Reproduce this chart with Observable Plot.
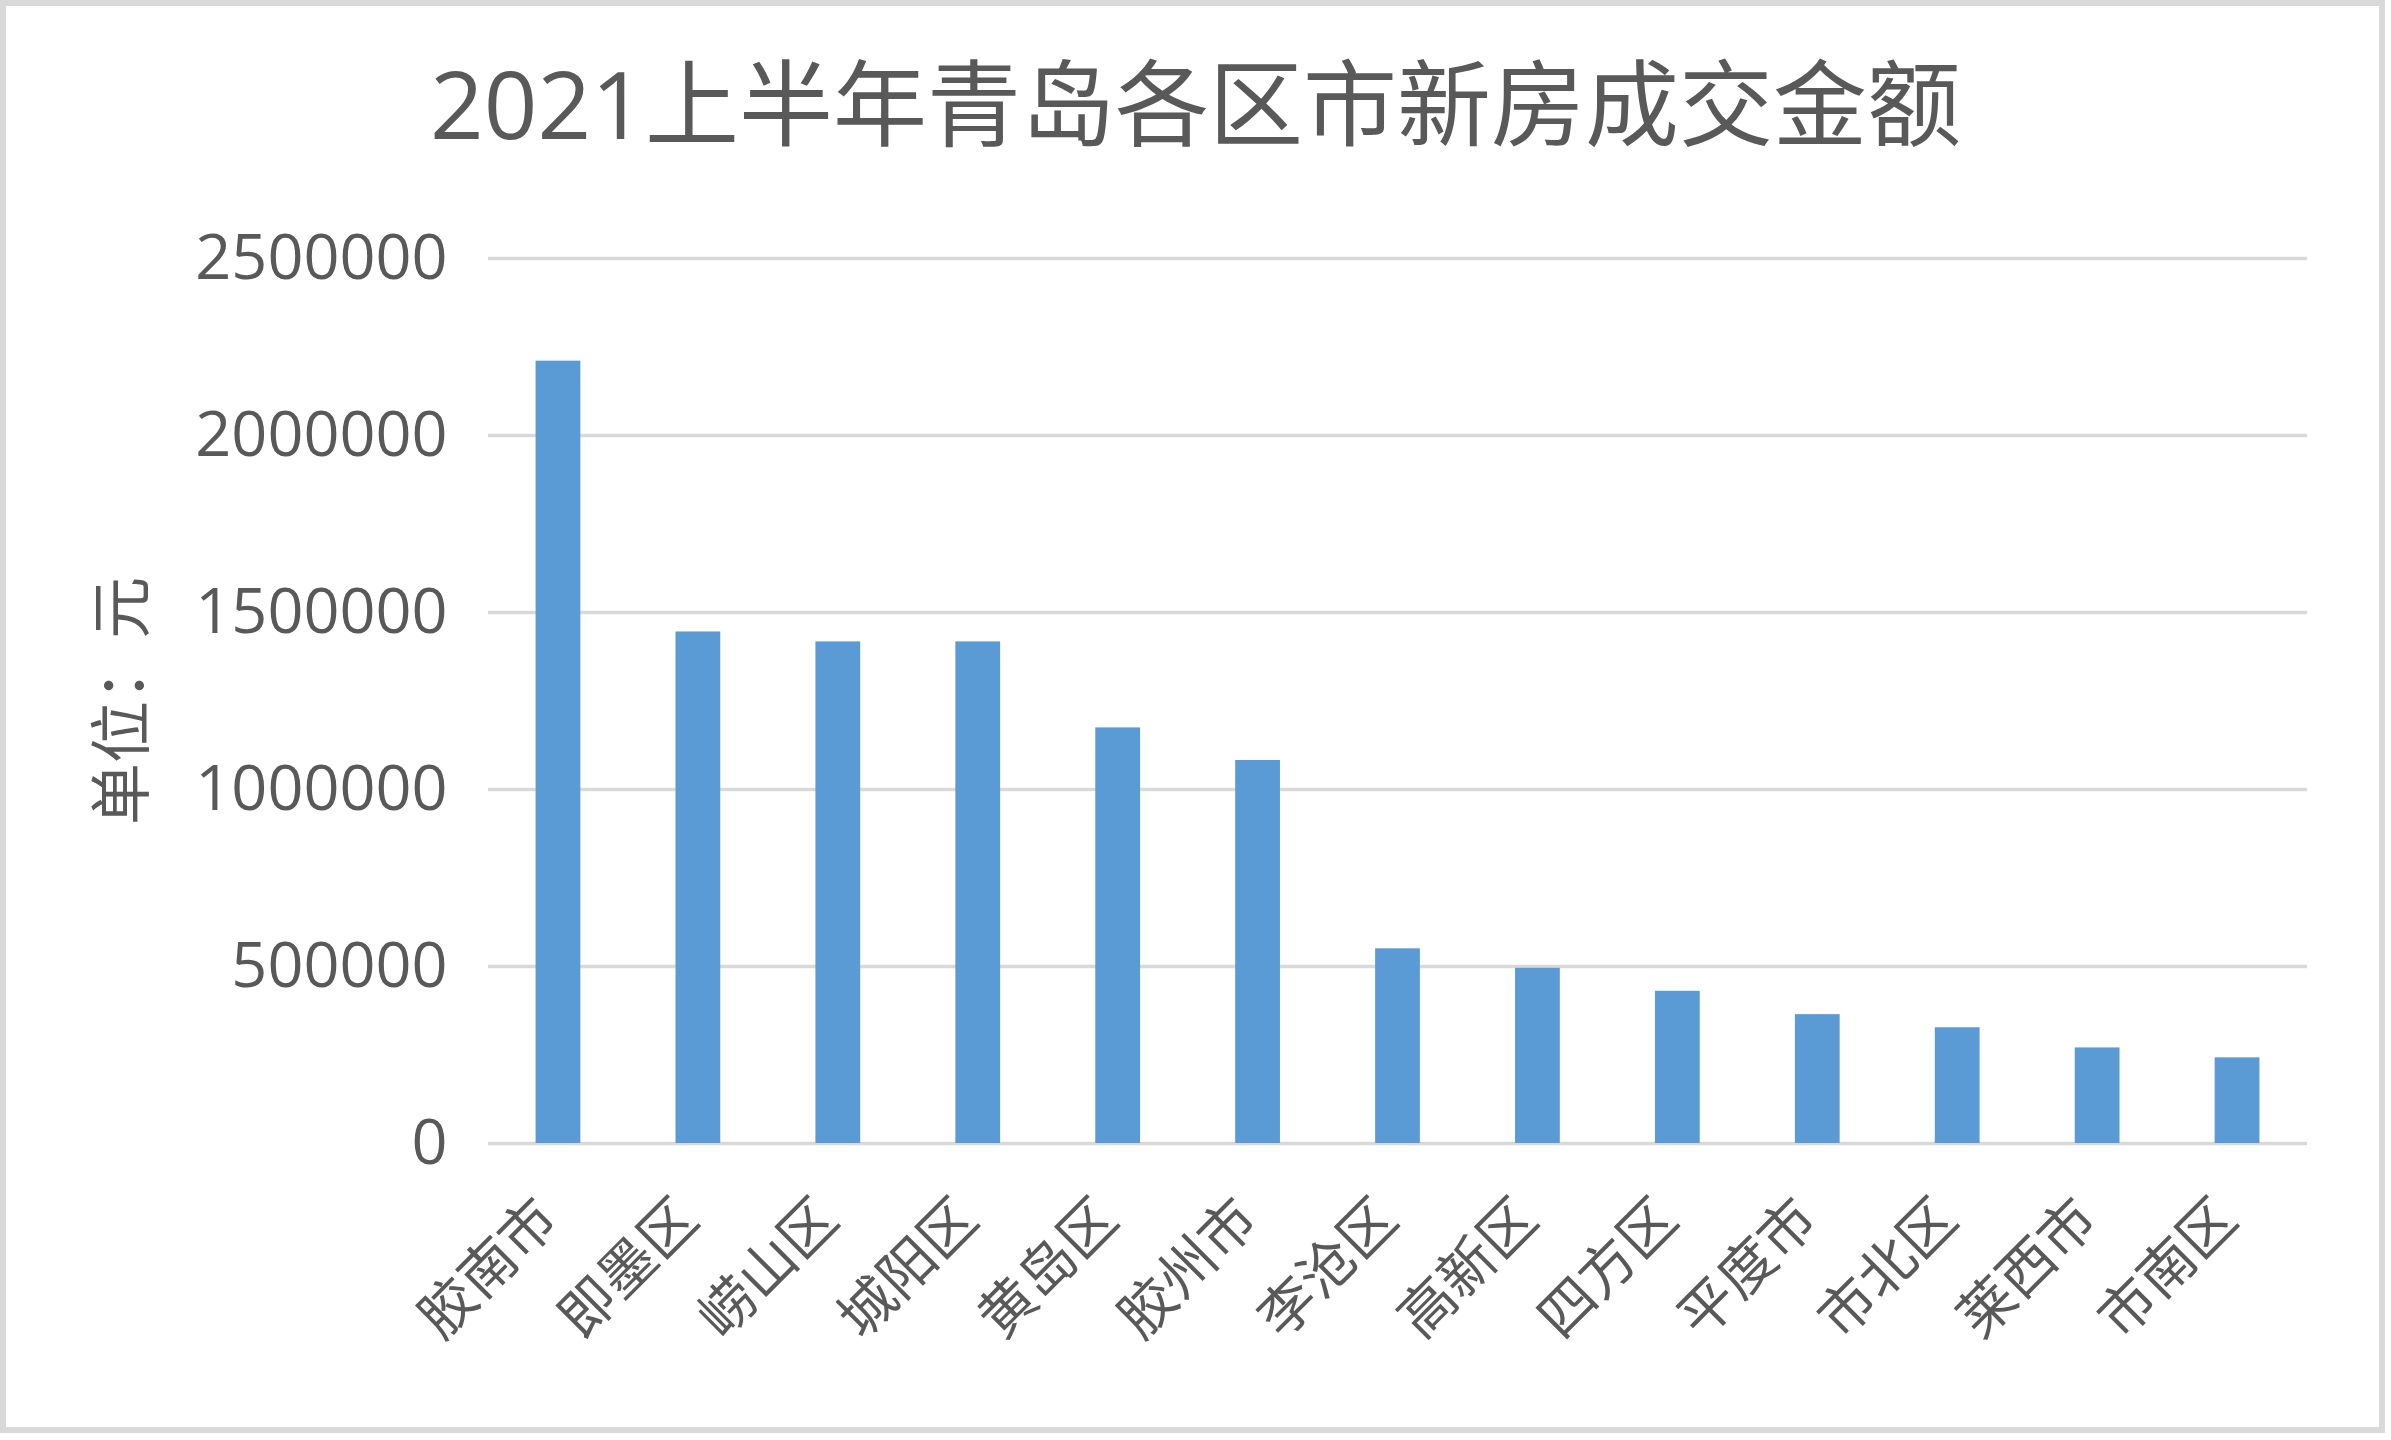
<!DOCTYPE html>
<html>
<head>
<meta charset="utf-8">
<script src="https://cdn.jsdelivr.net/npm/d3@7"></script>
<script src="https://cdn.jsdelivr.net/npm/@observablehq/plot@0.6"></script>
<style>
  html, body { margin: 0; padding: 0; background: #fff; }
  body { position: relative; width: 2391px; height: 1440px; overflow: hidden;
         font-family: "Open Sans", "Noto Sans CJK SC", sans-serif; color: #595959; }
  #frame { position: absolute; left: 0; top: 0; width: 2385px; height: 1433px;
           border: 6px solid #d9d9d9; box-sizing: border-box; }
  #title { position: absolute; left: 0; top: 54px; width: 2391px; text-align: center;
           font-size: 94px; line-height: 98px; color: #595959; white-space: nowrap; }
  #chart { position: absolute; left: 0; top: 170px; }
</style>
</head>
<body>
<div id="frame"></div>
<div id="title">2021上半年青岛各区市新房成交金额</div>
<div id="chart"></div>
<script>
const districts = ["胶南市", "即墨区", "崂山区", "城阳区", "黄岛区", "胶州市", "李沧区", "高新区", "四方区", "平度市", "市北区", "莱西市", "市南区"];
const amounts = [2210000, 1445000, 1417000, 1417000, 1174000, 1082000, 550000, 495000, 430000, 364000, 327000, 270000, 242000];
const yTicks = [0, 500000, 1000000, 1500000, 2000000, 2500000];
const yLabel = "单位：元";

const data = districts.map((name, i) => ({name, value: amounts[i]}));
const font = "'Open Sans', 'Noto Sans CJK SC', sans-serif";

const chart = Plot.plot({
  width: 2391,
  height: 1270,
  marginTop: 88,
  marginBottom: 297,
  marginLeft: 488,
  marginRight: 84,
  style: {background: "transparent", color: "#595959", fontFamily: font},
  x: {domain: districts, paddingInner: 0.68, paddingOuter: 0.34, round: false},
  y: {domain: [0, 2500000]},
  marks: [
    Plot.gridY(yTicks, {stroke: "#d9d9d9", strokeWidth: 3.5, strokeOpacity: 1}),
    Plot.barY(data, {x: "name", y: "value", fill: "#5B9BD5"}),
    Plot.axisY(yTicks, {tickSize: 0, tickPadding: 41, tickFormat: d3.format("d"), fontSize: 63, fill: "#595959", label: null}),
    Plot.axisX({tickSize: 0, tickRotate: -45, tickPadding: 66, dx: -10, fontSize: 56, fill: "#595959", label: null}),
    Plot.text([yLabel], {frameAnchor: "left", textAnchor: "middle", dx: -364, rotate: -90, fontSize: 62, fill: "#595959"})
  ]
});
document.getElementById("chart").appendChild(chart);
</script>
</body>
</html>
